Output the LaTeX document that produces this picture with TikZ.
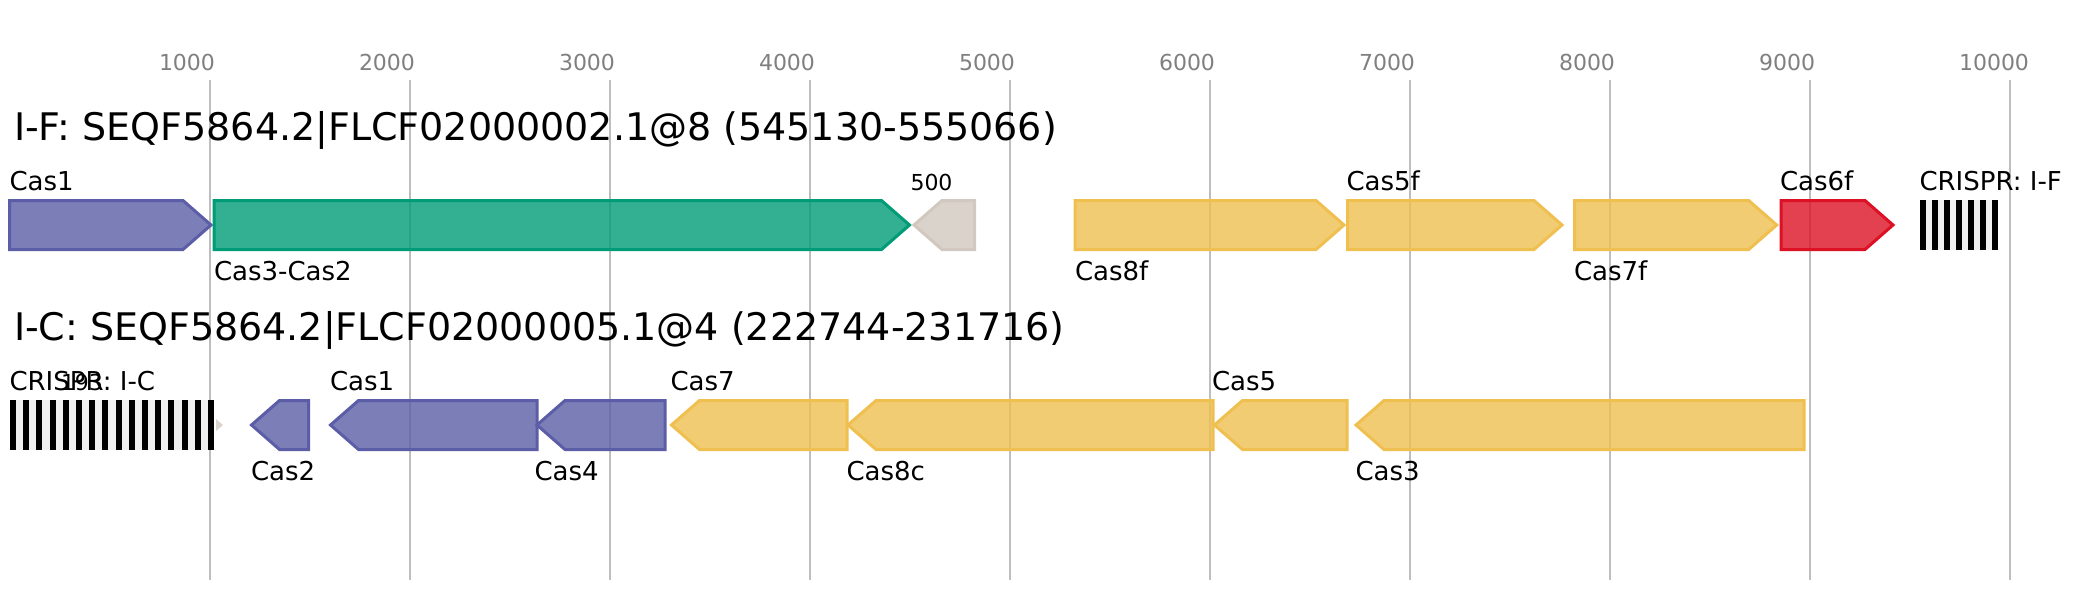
\documentclass[tikz,border=0pt]{standalone}
\usepackage{fontspec}
\setmainfont{DejaVu Sans}
\definecolor{cpurple}{RGB}{91,94,166}
\definecolor{cgreen}{RGB}{0,155,119}
\definecolor{cyellow}{RGB}{239,192,80}
\definecolor{cred}{RGB}{221,17,37}
\definecolor{cgrey}{RGB}{209,200,192}
\definecolor{tickgrey}{RGB}{190,190,190}
\definecolor{ticktext}{RGB}{128,128,128}
\definecolor{gapgrey}{RGB}{240,240,240}
\newcommand\fgene[5]{\draw[gene,draw=#4,fill=#4] (#1,#3-24.5) -- (#2-28,#3-24.5) -- (#2,#3) -- (#2-28,#3+24.5) -- (#1,#3+24.5) -- cycle;}
\newcommand\rgene[5]{\draw[gene,draw=#4,fill=#4] (#1,#3) -- (#1+28,#3-24.5) -- (#2,#3-24.5) -- (#2,#3+24.5) -- (#1+28,#3+24.5) -- cycle;}
\begin{document}
\begin{tikzpicture}[x=1pt,y=-1pt,
  gene/.style={line width=3pt,line join=miter,fill opacity=0.8},
  tickline/.style={draw=tickgrey,line width=2pt},
  ticklab/.style={anchor=base west,inner sep=0pt,outer sep=0pt,text=ticktext,font=\fontsize{22}{22}\selectfont},
  titlelab/.style={anchor=base west,inner sep=0pt,outer sep=0pt,font=\fontsize{38}{38}\selectfont},
  genelab/.style={anchor=base west,inner sep=0pt,outer sep=0pt,font=\fontsize{26}{26}\selectfont},
  smalllab/.style={anchor=base west,inner sep=0pt,outer sep=0pt,font=\fontsize{22}{22}\selectfont}]
\useasboundingbox[fill=white] (0,0) rectangle (2087,600);
% axis
\foreach \i in {1,...,10}{
  \draw[tickline] (10+200*\i,80) -- (10+200*\i,580);
  \node[ticklab] (tick\i) at (10+200*\i-51,70) {\i000};
}
% titles
\node[titlelab] (title1) at (14,140) {I-F: SEQF5864.2|FLCF02000002.1@8 (545130-555066)};
\node[titlelab] (title2) at (14,340) {I-C: SEQF5864.2|FLCF02000005.1@4 (222744-231716)};
% row 1
\fgene{9.5}{211}{225}{cpurple}{}
\fgene{214}{909.5}{225}{cgreen}{}
\rgene{914}{974.5}{225}{cgrey}{}
\fgene{1075}{1344}{225}{cyellow}{}
\fgene{1347.5}{1562}{225}{cyellow}{}
\fgene{1574.5}{1776.7}{225}{cyellow}{}
\fgene{1781}{1893}{225}{cred}{}
\fill[gapgrey] (1920,200) rectangle (1998,250);
\foreach \k in {0,...,6}{\fill[black] (1920+12*\k,200) rectangle (1926+12*\k,250);}
% row 2
\fill[gapgrey] (10,400) rectangle (214,450);
\foreach \k in {0,...,15}{\fill[black] (10+13.2*\k,400) rectangle (16+13.2*\k,450);}
\fill[cgrey,fill opacity=0.8] (216,419) -- (223,425) -- (216,431) -- cycle;
\rgene{251.5}{308.5}{425}{cpurple}{}
\rgene{330.5}{537}{425}{cpurple}{}
\rgene{537}{665}{425}{cpurple}{}
\rgene{671.5}{847}{425}{cyellow}{}
\rgene{848}{1213}{425}{cyellow}{}
\rgene{1214.5}{1347}{425}{cyellow}{}
\rgene{1356}{1804}{425}{cyellow}{}
% labels row 1
\node[genelab] (l1) at (9.5,190) {Cas1};
\node[genelab] (l2) at (214,280) {Cas3-Cas2};
\node[smalllab] (l3) at (910.5,190) {500};
\node[genelab] (l4) at (1075,280) {Cas8f};
\node[genelab] (l5) at (1346.5,190) {Cas5f};
\node[genelab] (l6) at (1574,280) {Cas7f};
\node[genelab] (l7) at (1780,190) {Cas6f};
\node[genelab] (l8) at (1919.5,190) {CRISPR: I-F};
% labels row 2
\node[genelab] (m1) at (9.5,390) {CRISPR: I-C};
\node[smalllab] (m2) at (61,390) {193};
\node[genelab] (m3) at (251,480) {Cas2};
\node[genelab] (m4) at (330,390) {Cas1};
\node[genelab] (m5) at (534.5,480) {Cas4};
\node[genelab] (m6) at (670.5,390) {Cas7};
\node[genelab] (m7) at (846.5,480) {Cas8c};
\node[genelab] (m8) at (1212,390) {Cas5};
\node[genelab] (m9) at (1355.5,480) {Cas3};
\end{tikzpicture}
\end{document}
